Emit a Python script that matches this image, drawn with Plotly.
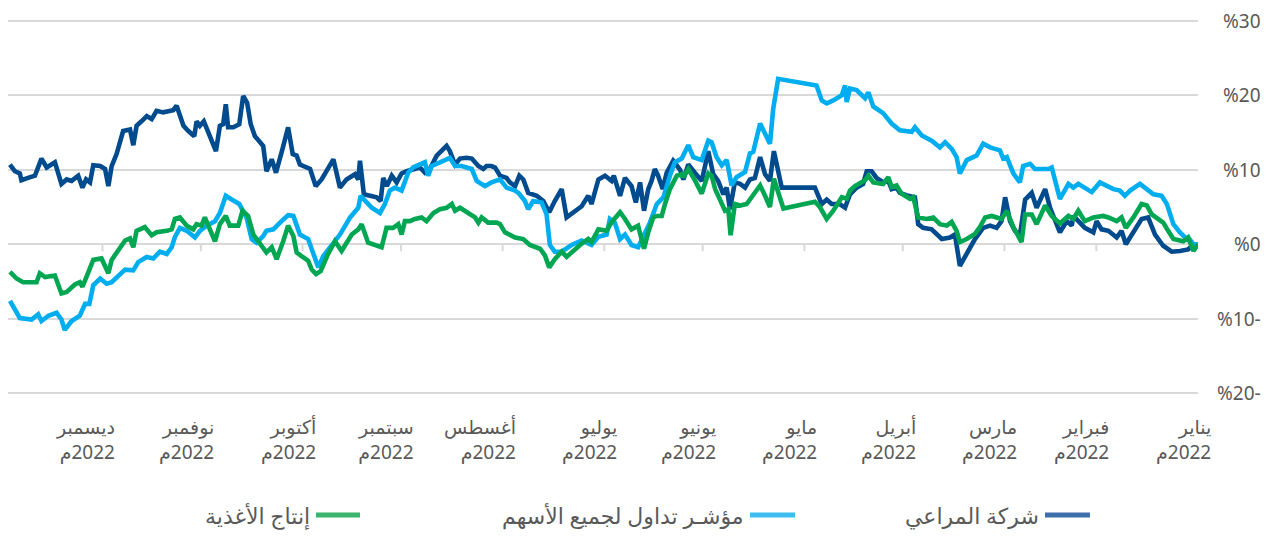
import pandas as pd
import plotly.graph_objects as go

# ---------------- data (day offset from 1 Jan 2022, cumulative % change) ----------------
almarai_days = [362.2, 360.7, 359.2, 358.7, 356.7, 354.6, 352.6, 351.0, 348.5, 346.5, 344.9, 343.4, 341.4, 340.1, 339.0,
                337.8, 336.8, 334.7, 333.2, 332.2, 331.2, 329.7, 327.7, 325.6, 324.6, 323.6, 322.1, 320.5, 319.0, 317.5,
                315.5, 312.4, 311.4, 309.3, 307.8, 306.0, 305.3, 304.3, 303.1, 301.2, 299.4, 298.2, 297.2, 296.4, 295.7,
                294.1, 292.3, 291.1, 289.9, 288.8, 287.5, 285.0, 284.0, 282.4, 281.1, 279.1, 277.4, 276.0, 274.8, 273.8,
                270.7, 269.0, 267.2, 263.6, 261.6, 259.6, 257.0, 256.0, 255.5, 254.3, 252.4, 250.4, 249.2, 248.4, 247.3,
                245.8, 244.3, 242.8, 241.3, 239.3, 237.2, 235.7, 234.2, 232.1, 230.6, 229.1, 228.1, 226.5, 225.0, 223.0,
                221.4, 219.4, 217.9, 216.9, 215.4, 214.3, 212.8, 210.8, 209.8, 208.2, 206.9, 205.7, 204.2, 201.6, 199.6,
                197.8, 196.1, 194.0, 192.5, 190.0, 187.9, 185.9, 184.9, 182.8, 180.8, 178.8, 178.1, 176.2, 174.7, 172.7,
                171.4, 170.1, 168.9, 167.6, 166.6, 165.6, 164.6, 163.2, 162.0, 160.0, 157.9, 156.9, 155.4, 153.4, 151.3,
                149.3, 147.8, 146.3, 144.7, 143.7, 142.7, 141.2, 139.6, 138.1, 136.6, 135.1, 133.5, 132.0, 130.5, 129.3,
                128.5, 126.9, 125.4, 116.8, 114.7, 113.2, 111.7, 109.2, 107.6, 106.1, 104.1, 102.1, 101.0, 99.5, 98.0,
                95.9, 94.4, 93.4, 91.9, 90.9, 88.3, 86.3, 85.3, 83.8, 81.2, 79.7, 78.1, 75.6, 74.1, 72.6,
                70.5, 68.0, 65.5, 63.4, 61.4, 59.9, 58.8, 57.3, 55.8, 54.3, 52.7, 50.7, 49.2, 46.6, 45.1,
                43.6, 42.1, 40.0, 38.5, 38.0, 36.5, 34.5, 31.9, 30.9, 29.4, 27.3, 24.8, 23.3, 22.0, 19.7,
                17.2, 15.2, 13.1, 10.6, 8.0, 5.5, 3.0, 1.4, 0.0]
almarai_vals = [10.7, 9.8, 9.5, 8.6, 8.9, 9.2, 11.5, 10.3, 11.0, 8.1, 8.7, 8.5, 9.2, 7.6, 8.7,
                8.3, 10.6, 10.5, 10.1, 7.8, 10.5, 12.1, 15.2, 15.4, 13.3, 15.9, 16.5, 17.2, 16.8, 17.9,
                17.7, 18.0, 18.6, 15.9, 15.2, 14.5, 16.5, 15.9, 16.5, 14.3, 12.5, 15.9, 16.1, 18.8, 15.7,
                15.7, 16.1, 19.9, 19.0, 16.1, 14.5, 13.2, 9.8, 11.4, 9.6, 12.8, 15.7, 12.1, 11.9, 10.7,
                10.1, 7.8, 8.7, 11.4, 7.6, 8.7, 9.4, 8.7, 11.2, 6.7, 6.5, 6.3, 5.8, 8.9, 7.8,
                9.2, 8.3, 9.5, 9.8, 10.1, 10.3, 9.6, 10.1, 11.9, 12.5, 13.2, 12.5, 10.7, 11.5, 11.6,
                11.5, 10.5, 10.1, 10.5, 10.5, 10.3, 9.2, 8.9, 8.3, 7.8, 9.2, 8.7, 6.9, 6.5, 5.8,
                4.3, 5.8, 7.4, 3.6, 4.5, 5.1, 6.5, 5.4, 8.7, 9.2, 8.5, 9.2, 6.5, 8.9, 7.8,
                5.6, 8.3, 4.5, 7.4, 8.5, 10.1, 9.2, 7.4, 9.6, 11.2, 10.0, 8.7, 10.7, 9.6, 8.5,
                12.5, 9.4, 8.5, 6.7, 7.6, 4.7, 8.3, 8.1, 7.6, 8.7, 8.9, 11.7, 9.4, 8.5, 12.5,
                11.0, 7.6, 7.6, 7.6, 5.4, 6.0, 5.4, 5.4, 4.9, 6.7, 7.6, 8.1, 9.8, 9.8, 8.9,
                8.3, 8.5, 7.4, 7.6, 6.9, 6.5, 6.3, 2.7, 2.2, 2.0, 1.3, 0.7, 0.9, 1.3, -2.9,
                -1.3, 0.7, 2.2, 2.5, 2.2, 3.1, 6.3, 3.1, 1.8, 1.2, 6.0, 6.9, 4.9, 7.4, 4.9,
                3.1, 1.6, 3.1, 2.5, 3.8, 3.1, 2.2, 1.6, 3.1, 2.0, 1.8, 0.9, 1.8, 0.0, 1.6,
                3.4, 3.6, 1.3, -0.2, -1.0, -0.9, -0.7, 0.0, 0.0]

tasi_days = [362.2, 360.7, 359.2, 355.6, 353.6, 352.6, 350.5, 348.0, 346.5, 345.5, 343.4, 340.9, 339.3, 338.0, 336.8,
             334.7, 332.7, 331.2, 329.2, 327.1, 324.6, 323.1, 320.5, 318.5, 316.5, 314.4, 312.9, 311.9, 310.4, 308.3,
             305.8, 304.3, 302.2, 299.7, 298.2, 296.4, 294.6, 292.3, 290.1, 288.5, 287.0, 285.0, 284.0, 281.9, 279.4,
             277.4, 275.8, 273.8, 271.3, 269.2, 268.2, 266.7, 263.6, 261.6, 258.5, 256.0, 255.3, 253.5, 251.9, 249.4,
             247.9, 246.4, 244.8, 242.8, 240.8, 239.3, 237.2, 235.7, 234.7, 233.6, 231.1, 228.1, 226.5, 224.5, 221.4,
             219.9, 217.4, 215.4, 212.8, 210.8, 208.2, 207.2, 205.2, 204.2, 202.7, 200.1, 198.6, 197.6, 196.1, 194.0,
             191.0, 187.9, 184.9, 182.8, 180.3, 179.3, 177.8, 176.2, 174.7, 172.7, 170.7, 169.1, 167.1, 165.0, 163.0,
             161.0, 159.5, 157.4, 155.4, 153.9, 151.3, 149.3, 148.3, 146.8, 145.2, 143.7, 142.2, 140.7, 138.1, 136.6,
             135.6, 133.5, 131.7, 130.5, 129.5, 128.0, 116.3, 114.7, 113.2, 111.2, 108.6, 107.6, 107.1, 106.1, 104.1,
             101.5, 100.5, 99.0, 96.0, 93.4, 90.9, 87.3, 86.3, 84.2, 81.2, 78.7, 77.1, 75.1, 73.6, 72.6,
             70.5, 67.5, 65.5, 63.4, 60.4, 59.4, 58.3, 56.3, 54.3, 53.3, 51.2, 49.7, 45.6, 44.6, 42.1,
             39.5, 38.0, 36.5, 32.4, 29.9, 25.8, 23.8, 22.3, 20.7, 17.7, 15.6, 13.6, 11.1, 9.5, 7.5,
             5.5, 3.4, 3.0, 1.4, 0.0]
tasi_vals = [-7.6, -8.7, -9.9, -10.1, -9.4, -10.3, -9.6, -9.2, -10.1, -11.5, -10.3, -9.6, -8.0, -8.0, -5.5,
             -4.6, -5.3, -5.1, -4.2, -3.4, -3.5, -2.4, -1.7, -1.9, -1.0, -1.3, -0.4, 1.0, 2.2, 1.8,
             0.9, 1.8, 2.5, 3.1, 4.2, 6.5, 6.0, 5.4, 3.6, 0.7, 0.2, 1.1, 1.8, 2.0, 3.1,
             3.9, 3.8, 1.3, 0.7, -2.2, -3.1, -1.6, 0.2, 1.3, 3.6, 4.9, 6.5, 5.6, 4.9, 4.2,
             5.4, 7.2, 7.6, 7.2, 9.6, 10.3, 10.8, 11.0, 9.2, 10.5, 11.0, 11.6, 10.5, 10.5, 10.1,
             8.5, 7.8, 8.3, 8.7, 7.6, 7.2, 6.9, 5.8, 4.7, 5.8, 5.6, 4.0, -0.1, -1.0, -1.0,
             -0.1, 0.5, -0.1, 1.0, 1.3, 3.4, 2.9, 0.7, 1.3, -0.1, -0.4, 1.1, 2.9, 5.4, 6.3,
             9.2, 11.0, 11.5, 13.3, 11.7, 11.3, 13.9, 13.7, 11.7, 10.6, 11.3, 7.9, 9.0, 9.7, 12.2,
             12.4, 16.2, 14.4, 13.5, 18.2, 22.2, 21.3, 19.3, 18.9, 19.3, 20.0, 21.3, 19.1, 20.9, 20.7,
             19.6, 20.4, 18.5, 17.6, 16.2, 15.3, 15.1, 15.7, 14.6, 13.9, 13.0, 13.7, 12.8, 11.7, 9.5,
             11.3, 11.9, 13.5, 13.0, 12.6, 11.5, 11.7, 9.5, 8.3, 10.5, 10.8, 10.1, 10.1, 10.3, 6.1,
             8.1, 7.6, 8.1, 7.0, 8.3, 7.4, 7.2, 6.5, 7.2, 8.1, 7.4, 6.7, 6.5, 5.4, 2.7,
             1.6, 0.7, 0.9, 0.0, 0.0]

food_days = [362.2, 360.2, 358.2, 354.1, 353.1, 351.5, 348.5, 346.5, 344.9, 342.4, 340.9, 340.1, 338.9, 336.8, 334.3,
             332.2, 331.2, 329.7, 327.1, 325.6, 324.6, 323.6, 321.1, 319.0, 317.5, 314.4, 312.9, 311.9, 310.4, 308.3,
             306.3, 305.3, 303.8, 302.8, 299.7, 298.2, 296.4, 295.2, 292.6, 291.3, 289.6, 288.0, 286.0, 284.0, 282.4,
             280.9, 278.9, 277.4, 275.8, 274.8, 273.3, 271.3, 270.2, 268.9, 267.5, 265.2, 263.1, 261.1, 258.0, 256.0,
             255.0, 253.0, 248.9, 247.4, 245.4, 243.8, 242.8, 241.8, 240.3, 238.7, 236.7, 235.2, 233.1, 231.1, 229.1,
             227.5, 226.5, 225.0, 222.5, 220.4, 219.4, 218.4, 216.4, 213.8, 212.8, 211.3, 208.2, 205.7, 203.7, 200.6,
             199.1, 197.8, 196.1, 194.0, 192.5, 190.4, 187.9, 185.9, 184.9, 182.8, 180.3, 178.7, 176.2, 174.7, 172.7,
             170.7, 168.9, 167.6, 166.1, 165.0, 163.5, 162.5, 161.0, 158.9, 157.4, 156.9, 155.4, 153.4, 151.3, 149.3,
             148.3, 147.2, 145.7, 144.2, 143.2, 142.5, 141.2, 139.6, 137.6, 136.1, 134.5, 133.5, 132.0, 130.5, 129.3,
             127.5, 126.4, 116.8, 115.3, 113.2, 111.2, 108.6, 107.1, 106.1, 104.6, 101.5, 100.5, 99.0, 96.0, 94.4,
             93.4, 91.9, 90.4, 87.8, 86.8, 85.3, 82.7, 80.7, 78.7, 76.6, 75.1, 73.6, 72.6, 70.5, 68.0,
             66.5, 64.9, 62.9, 59.9, 58.3, 56.3, 53.8, 52.7, 50.7, 49.2, 46.6, 44.6, 42.1, 39.5, 38.0,
             36.5, 34.5, 31.9, 28.9, 27.3, 24.8, 23.3, 22.0, 19.7, 17.2, 15.6, 14.1, 10.6, 9.1, 7.5,
             4.5, 3.0, 1.4, 0.0]
food_vals = [-3.7, -4.6, -5.1, -5.1, -3.9, -4.4, -4.2, -6.6, -6.4, -5.4, -5.1, -5.7, -4.4, -2.1, -1.9,
             -3.9, -2.1, -1.2, 0.5, 0.8, -0.4, 1.8, 2.3, 1.2, 1.6, 1.8, 2.0, 3.4, 3.6, 2.5,
             2.0, 2.7, 2.5, 3.6, 0.4, 2.7, 3.8, 2.5, 2.5, 4.5, 3.8, 1.3, 0.2, -1.1, -0.4,
             -2.0, 0.4, 2.5, 1.1, -1.1, -1.6, -2.2, -3.4, -4.0, -3.6, -1.3, 0.4, -0.9, 1.3, 2.0,
             2.7, 0.2, -0.4, 2.2, 2.2, 2.7, 1.3, 3.1, 3.1, 3.4, 3.6, 3.1, 4.2, 4.7, 4.9,
             5.4, 4.5, 4.9, 4.2, 3.6, 2.9, 3.6, 2.9, 2.9, 2.7, 1.6, 0.9, 0.7, -0.1, -0.6,
             -1.5, -3.1, -2.0, -1.0, -1.7, -0.8, 0.1, 0.7, 0.3, 2.0, 1.8, 3.0, 4.3, 3.4, 2.0,
             2.5, -0.6, 1.6, 3.6, 3.8, 3.8, 5.4, 7.4, 9.2, 9.4, 9.0, 10.1, 8.6, 6.8, 9.5,
             9.2, 7.4, 6.1, 4.5, 4.7, 1.2, 5.4, 5.2, 5.4, 6.3, 7.2, 7.9, 6.5, 5.0, 8.8,
             6.3, 4.8, 5.7, 5.0, 3.4, 4.5, 6.3, 6.1, 7.2, 7.8, 8.6, 9.2, 8.3, 8.1, 9.0,
             7.7, 7.9, 6.8, 6.1, 6.3, 3.6, 3.4, 3.6, 2.7, 2.5, 3.0, 1.8, 0.3, 0.7, 1.4,
             2.3, 3.6, 3.8, 3.4, 4.5, 2.3, 0.3, 4.0, 4.0, 2.7, 5.2, 3.8, 2.8, 3.8, 3.4,
             4.5, 3.1, 3.6, 3.8, 3.6, 3.1, 3.6, 2.2, 3.6, 5.4, 5.2, 4.0, 2.9, 1.8, 0.7,
             0.4, 0.9, -0.9, 0.0]

series_names = ["شركة المراعي", "مؤشـر تداول لجميع الأسهم", "إنتاج الأغذية"]
series_colors = ["#004b8d", "#00aeef", "#00a651"]
legend_colors = ["#3d70a9", "#3dbdf0", "#3cb46e"]

month_names = ["يناير", "فبراير", "مارس", "أبريل", "مايو", "يونيو",
               "يوليو", "أغسطس", "سبتمبر", "أكتوبر", "نوفمبر", "ديسمبر"]
year_label = "2022م"
y_ticks = [30, 20, 10, 0, -10, -20]
y_tick_text = ["%30", "%20", "%10", "%0", "%10-", "%20-"]

# ---------------- build ----------------
base = pd.Timestamp("2022-01-01")


def to_dates(days):
    return [base + pd.Timedelta(days=d) for d in days]


FONT = "Noto Sans, DejaVu Sans"
GRAY = "#595959"
W, H = 1279, 538
OFF = 8                       # default page body margin of the html page
PLOT_L, PLOT_R, PLOT_T, PLOT_B = 8, 1198, 20.7, 393.3   # target box (30% .. -20%) on the page
Y_MIN, Y_MAX = -20.5, 30.5
ppu = (PLOT_B - PLOT_T) / 50.0
top_px = PLOT_T - (Y_MAX - 30) * ppu
bot_px = PLOT_B + (-20 - Y_MIN) * ppu
L = PLOT_L - OFF
R = W - (PLOT_R - OFF)
T = top_px - OFF
B = H - (bot_px - OFF)
plot_w = PLOT_R - PLOT_L
plot_h = bot_px - top_px


def px_x(px):
    return (px - PLOT_L) / plot_w


def px_y(py):
    return (bot_px - py) / plot_h


fig = go.Figure()
all_series = [(almarai_days, almarai_vals), (tasi_days, tasi_vals), (food_days, food_vals)]
for (d, v), name, col in zip(all_series, series_names, series_colors):
    fig.add_trace(go.Scatter(x=to_dates(d), y=v, mode="lines", name=name,
                             line=dict(color=col, width=4.6), showlegend=False,
                             hoverinfo="skip"))

month_starts = pd.date_range("2022-01-01", periods=12, freq="MS")
shapes = []
annotations = []
for i, ms in enumerate(month_starts):
    if i > 0:
        shapes.append(dict(type="line", xref="x", yref="y", x0=ms, x1=ms,
                           ysizemode="pixel", yanchor=0, y0=0, y1=-7,
                           line=dict(color="#d9d9d9", width=2)))
    annotations.append(dict(xref="x", yref="paper", x=ms, y=px_y(440), xanchor="right", yanchor="middle",
                            xshift=15, align="right",
                            text=month_names[i] + "<br>\u200f" + year_label, showarrow=False,
                            font=dict(family=FONT, size=19, color=GRAY)))

for val, txt in zip(y_ticks, y_tick_text):
    annotations.append(dict(xref="paper", yref="y", x=px_x(1263), y=val, xanchor="right", yanchor="middle",
                            text=txt, showarrow=False, font=dict(family=FONT, size=19, color=GRAY)))

# custom RTL legend: line swatch to the right of the text
legend_line_x = [(1045, 1090), (750, 795), (316, 360)]
legend_y = px_y(515)
for (x0, x1), name, col in zip(legend_line_x, series_names, legend_colors):
    shapes.append(dict(type="line", xref="paper", yref="paper", x0=px_x(x0), x1=px_x(x1),
                       y0=legend_y, y1=legend_y, line=dict(color=col, width=5)))
    annotations.append(dict(xref="paper", yref="paper", x=px_x(x0 - 4), y=legend_y, xanchor="right",
                            yanchor="middle", text=name, showarrow=False,
                            font=dict(family=FONT, size=22, color=GRAY)))

fig.update_layout(
    width=W, height=H,
    margin=dict(l=L, r=R, t=T, b=B, pad=0),
    paper_bgcolor="white", plot_bgcolor="white",
    xaxis=dict(type="date", range=[base + pd.Timedelta(days=362.8), base],
               showgrid=False, showticklabels=False, zeroline=False, showline=False, ticks=""),
    yaxis=dict(range=[Y_MIN, Y_MAX], tickvals=y_ticks, showticklabels=False, showgrid=True,
               gridcolor="#d9d9d9", gridwidth=1.5, zeroline=False, showline=False, ticks=""),
    shapes=shapes, annotations=annotations,
    showlegend=False,
)

fig.write_html("out.html")
